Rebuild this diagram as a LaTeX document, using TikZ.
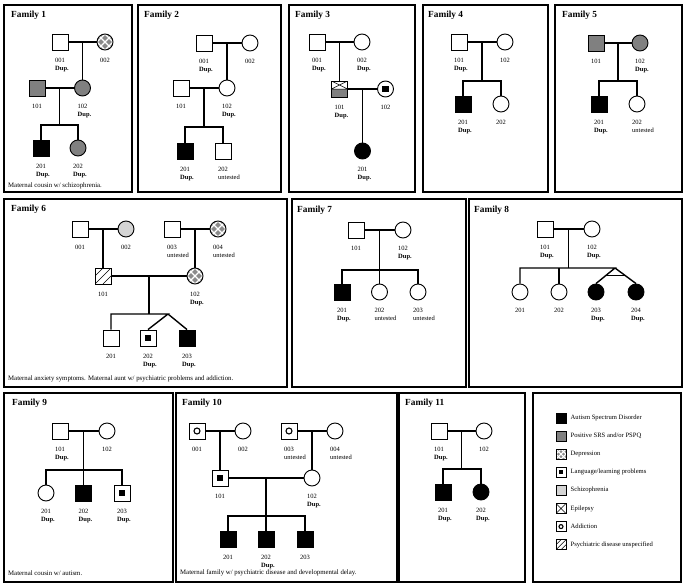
\documentclass[tikz,border=0pt]{standalone}
\usepackage{fontspec}
\setmainfont{Liberation Serif}
\usetikzlibrary{calc,positioning}
\definecolor{srsGray}{HTML}{808080}
\definecolor{sczGray}{HTML}{D4D4D4}
\definecolor{deprGray}{HTML}{8A8A8A}
\newcommand{\Dup}{\\\textbf{Dup.}}
\newcommand{\Unt}{\\untested}
\newcommand{\ppcorners}{\path (path picture bounding box.south west) coordinate (pSW)
  (path picture bounding box.north east) coordinate (pNE)
  (path picture bounding box.north west) coordinate (pNW)
  (path picture bounding box.south east) coordinate (pSE)
  (path picture bounding box.center) coordinate (pC);}

\begin{document}
\begin{tikzpicture}[x=1pt,y=-1pt,
  male/.style={draw,rectangle,minimum size=16pt,inner sep=0pt,line width=.9pt,fill=white},
  female/.style={draw,circle,minimum size=16pt,inner sep=0pt,line width=.9pt,fill=white},
  lgd/.style={draw,rectangle,minimum size=10pt,inner sep=0pt,line width=1pt,fill=white},
  asd/.style={fill=black},
  srs/.style={fill=srsGray},
  scz/.style={fill=sczGray},
  depr/.style={fill=deprGray,path picture={\ppcorners
      \draw[white,line width=1.1pt] (pSW) -- (pNE) (pNW) -- (pSE)
        ($(pSW)!.5!(pNW)$) -- ($(pNW)!.5!(pNE)$) -- ($(pNE)!.5!(pSE)$) -- ($(pSE)!.5!(pSW)$) -- cycle;}},
  lang/.style={path picture={\ppcorners\fill[black] ($(pC)!.4!(pSW)$) rectangle ($(pC)!.4!(pNE)$);}},
  epil/.style={path picture={\ppcorners\draw[line width=.5pt] (pSW) -- (pNE) (pNW) -- (pSE);}},
  addict/.style={path picture={\draw[line width=1.1pt] (path picture bounding box.center) circle[radius=#1];}},
  addict/.default=3pt,
  psyu/.style={path picture={\ppcorners\draw[line width=.5pt] (pSW) -- (pNE)
      ($(pSW)!.5!(pNW)$) -- ($(pNW)!.5!(pNE)$) ($(pSW)!.5!(pSE)$) -- ($(pSE)!.5!(pNE)$);}},
  epsrs/.style={path picture={\ppcorners\fill[srsGray] ($(pSW)!.5!(pNW)$) rectangle (pSE);
      \draw[line width=.5pt] ($(pSW)!.5!(pNW)$) -- ($(pSE)!.5!(pNE)$) -- (pNW) (pNE) -- ($(pSW)!.5!(pNW)$);}},
  pline/.style={line width=1.4pt},
  panel/.style={draw,line width=1.3pt},
  ftitle/.style={anchor=west,inner sep=0pt,font=\fontsize{9.3}{10}\selectfont\bfseries},
  note/.style={anchor=west,inner sep=0pt,font=\fontsize{6.8}{8}\selectfont},
  idlbl/.style={anchor=north west,align=left,inner sep=0pt,xshift=-5pt,yshift=-8pt,font=\fontsize{6.5}{8}\selectfont},
  pid/.style={label={[idlbl]south:#1}},
  lgtext/.style={anchor=west,inner sep=0pt,xshift=4pt,font=\fontsize{6.6}{8}\selectfont}]
\useasboundingbox (0,0) rectangle (685,586);

% panels and titles
\foreach \a/\b/\c/\d in {4/5/132/192, 138/5/281/192, 289/5/415/192, 423/5/548/192, 555/5/682/192,
    4/199/287/387, 292/199/466/387, 469/199/682/387,
    4/393/173/582, 176/393/397/582, 399/393/525/582, 533/393/681/582}
  \draw[panel] (\a,\b) rectangle (\c,\d);
\foreach \n/\x/\y in {1/11/15, 2/144/15, 3/295/15, 4/428/15, 5/562/15,
    6/11/209, 7/297/210, 8/474/210, 9/12/403, 10/182/403, 11/405/403}
  \node[ftitle] (t\n) at (\x,\y) {Family \n};

% Family 1
\node[male,pid={001\Dup}] (f1i001) at (60,42) {};
\node[female,depr,pid={002}] (f1i002) at (105,42) {};
\node[male,srs,pid={101}] (f1i101) at (37,88) {};
\node[female,srs,pid={102\Dup}] (f1i102) at (82.5,88) {};
\node[male,asd,pid={201\Dup}] (f1i201) at (41,148) {};
\node[female,srs,pid={202\Dup}] (f1i202) at (78,148) {};
\coordinate (f1s) at (59.75,125);
\draw[pline] (f1i001) -- (f1i002) (f1i101) -- (f1i102);
\draw[pline] ($(f1i001)!.5!(f1i002)$) -- (f1i102);
\draw[pline] ($(f1i101)!.5!(f1i102)$) -- (f1s);
\draw[pline] (f1i201) |- (f1s) -| (f1i202);
\node[note] (n1) at (8,186) {Maternal cousin w/ schizophrenia.};

% Family 2
\node[male,pid={001\Dup}] (f2i001) at (204,43) {};
\node[female,pid={002}] (f2i002) at (250,43) {};
\node[male,pid={101}] (f2i101) at (181,88) {};
\node[female,pid={102\Dup}] (f2i102) at (227,88) {};
\node[male,asd,pid={201\Dup}] (f2i201) at (185,151) {};
\node[male,pid={202\Unt}] (f2i202) at (223,151) {};
\coordinate (f2s) at (204,127);
\draw[pline] (f2i001) -- (f2i002) (f2i101) -- (f2i102);
\draw[pline] ($(f2i001)!.5!(f2i002)$) -- (f2i102);
\draw[pline] ($(f2i101)!.5!(f2i102)$) -- (f2s);
\draw[pline] (f2i201) |- (f2s) -| (f2i202);

% Family 3
\node[male,pid={001\Dup}] (f3i001) at (317,42) {};
\node[female,pid={002\Dup}] (f3i002) at (362,42) {};
\node[male,epsrs,pid={101\Dup}] (f3i101) at (339.5,89) {};
\node[female,lang,pid={102}] (f3i102) at (385.5,89) {};
\node[female,asd,pid={201\Dup}] (f3i201) at (362.5,151) {};
\draw[pline] (f3i001) -- (f3i002) (f3i101) -- (f3i102);
\draw[pline] ($(f3i001)!.5!(f3i002)$) -- (f3i101);
\draw[pline] ($(f3i101)!.5!(f3i102)$) -- (f3i201);

% Family 4
\node[male,pid={101\Dup}] (f4i101) at (459,42) {};
\node[female,pid={102}] (f4i102) at (505,42) {};
\node[male,asd,pid={201\Dup}] (f4i201) at (463,104) {};
\node[female,pid={202}] (f4i202) at (501,104) {};
\coordinate (f4s) at (482,81);
\draw[pline] (f4i101) -- (f4i102);
\draw[pline] ($(f4i101)!.5!(f4i102)$) -- (f4s);
\draw[pline] (f4i201) |- (f4s) -| (f4i202);

% Family 5
\node[male,srs,pid={101}] (f5i101) at (596,43) {};
\node[female,srs,pid={102\Dup}] (f5i102) at (640,43) {};
\node[male,asd,pid={201\Dup}] (f5i201) at (599,104) {};
\node[female,pid={202\Unt}] (f5i202) at (637,104) {};
\coordinate (f5s) at (618,81);
\draw[pline] (f5i101) -- (f5i102);
\draw[pline] ($(f5i101)!.5!(f5i102)$) -- (f5s);
\draw[pline] (f5i201) |- (f5s) -| (f5i202);

% Family 6
\node[male,pid={001}] (f6i001) at (80,229) {};
\node[female,scz,pid={002}] (f6i002) at (126,229) {};
\node[male,pid={003\Unt}] (f6i003) at (172,229) {};
\node[female,depr,pid={004\Unt}] (f6i004) at (218,229) {};
\node[male,psyu,pid={101}] (f6i101) at (103,276) {};
\node[female,depr,pid={102\Dup}] (f6i102) at (195,276) {};
\node[male,pid={201}] (f6i201) at (111,338) {};
\node[male,lang,pid={202\Dup}] (f6i202) at (148,338) {};
\node[male,asd,pid={203\Dup}] (f6i203) at (187,338) {};
\coordinate (f6t) at (168,314);
\draw[pline] (f6i001) -- (f6i002) (f6i003) -- (f6i004) (f6i101) -- (f6i102);
\draw[pline] ($(f6i001)!.5!(f6i002)$) -- (f6i101);
\draw[pline] ($(f6i003)!.5!(f6i004)$) -- (f6i102);
\draw[pline] ($(f6i101)!.5!(f6i102)$) coordinate (f6m) -- (f6m |- f6t);
\draw[pline] (f6i201) |- (f6t) -- (f6i202.north) (f6t) -- (f6i203.north);
\node[note] (n6) at (8,379) {Maternal anxiety symptoms. Maternal aunt w/ psychiatric problems and addiction.};

% Family 7
\node[male,pid={101}] (f7i101) at (356,230) {};
\node[female,pid={102\Dup}] (f7i102) at (403,230) {};
\node[male,asd,pid={201\Dup}] (f7i201) at (342,292) {};
\node[female,pid={202\Unt}] (f7i202) at (379.5,292) {};
\node[female,pid={203\Unt}] (f7i203) at (418,292) {};
\coordinate (f7s) at (379.5,270);
\draw[pline] (f7i101) -- (f7i102);
\draw[pline] ($(f7i101)!.5!(f7i102)$) -- (f7i202);
\draw[pline] (f7i201) |- (f7s) -| (f7i203);

% Family 8
\node[male,pid={101\Dup}] (f8i101) at (545,229) {};
\node[female,pid={102\Dup}] (f8i102) at (592,229) {};
\node[female,pid={201}] (f8i201) at (520,292) {};
\node[female,pid={202}] (f8i202) at (559,292) {};
\node[female,asd,pid={203\Dup}] (f8i203) at (596,292) {};
\node[female,asd,pid={204\Dup}] (f8i204) at (636,292) {};
\coordinate (f8t) at (615,268);
\draw[pline] (f8i101) -- (f8i102);
\draw[pline] ($(f8i101)!.5!(f8i102)$) coordinate (f8m) -- (f8m |- f8t);
\draw[pline] (f8i201) |- (f8t) -- (f8i203.north) (f8t) -- (f8i204.north);
\draw[pline] (f8i202) -- (f8i202 |- f8t);
\draw[pline] ($(f8t)!.5!(f8i203.north)$) -- ($(f8t)!.5!(f8i204.north)$);

% Family 9
\node[male,pid={101\Dup}] (f9i101) at (60,431) {};
\node[female,pid={102}] (f9i102) at (107,431) {};
\node[female,pid={201\Dup}] (f9i201) at (46,493) {};
\node[male,asd,pid={202\Dup}] (f9i202) at (83.5,493) {};
\node[male,lang,pid={203\Dup}] (f9i203) at (122,493) {};
\coordinate (f9s) at (83.5,470);
\draw[pline] (f9i101) -- (f9i102);
\draw[pline] ($(f9i101)!.5!(f9i102)$) -- (f9i202);
\draw[pline] (f9i201) |- (f9s) -| (f9i203);
\node[note] (n9) at (8,573) {Maternal cousin w/ autism.};

% Family 10
\node[male,addict,pid={001}] (f10i001) at (197,431) {};
\node[female,pid={002}] (f10i002) at (243,431) {};
\node[male,addict,pid={003\Unt}] (f10i003) at (289,431) {};
\node[female,pid={004\Unt}] (f10i004) at (335,431) {};
\node[male,lang,pid={101}] (f10i101) at (220,478) {};
\node[female,pid={102\Dup}] (f10i102) at (312,478) {};
\node[male,asd,pid={201}] (f10i201) at (228,539) {};
\node[male,asd,pid={202\Dup}] (f10i202) at (266,539) {};
\node[male,asd,pid={203}] (f10i203) at (305,539) {};
\coordinate (f10s) at (266,516);
\draw[pline] (f10i001) -- (f10i002) (f10i003) -- (f10i004) (f10i101) -- (f10i102);
\draw[pline] ($(f10i001)!.5!(f10i002)$) -- (f10i101);
\draw[pline] ($(f10i003)!.5!(f10i004)$) -- (f10i102);
\draw[pline] ($(f10i101)!.5!(f10i102)$) -- (f10i202);
\draw[pline] (f10i201) |- (f10s) -| (f10i203);
\node[note] (n10) at (180,573) {Maternal family w/ psychiatric disease and developmental delay.};

% Family 11
\node[male,pid={101\Dup}] (f11i101) at (439,431) {};
\node[female,pid={102}] (f11i102) at (484,431) {};
\node[male,asd,pid={201\Dup}] (f11i201) at (443,492) {};
\node[female,asd,pid={202\Dup}] (f11i202) at (481,492) {};
\coordinate (f11s) at (461.5,469);
\draw[pline] (f11i101) -- (f11i102);
\draw[pline] ($(f11i101)!.5!(f11i102)$) -- (f11s);
\draw[pline] (f11i201) |- (f11s) -| (f11i202);

% legend
\node[lgd,asd,label={[lgtext]east:Autism Spectrum Disorder}] (lg1) at (561,418) {};
\node[lgd,srs,label={[lgtext]east:Positive SRS and/or PSPQ}] (lg2) at (561,436.1) {};
\node[lgd,depr,label={[lgtext]east:Depression}] (lg3) at (561,454.2) {};
\node[lgd,lang,label={[lgtext]east:Language/learning problems}] (lg4) at (561,472.3) {};
\node[lgd,scz,label={[lgtext]east:Schizophrenia}] (lg5) at (561,490.4) {};
\node[lgd,epil,label={[lgtext]east:Epilepsy}] (lg6) at (561,508.5) {};
\node[lgd,addict=2pt,label={[lgtext]east:Addiction}] (lg7) at (561,526.6) {};
\node[lgd,psyu,label={[lgtext]east:Psychiatric disease unspecified}] (lg8) at (561,544.7) {};
\end{tikzpicture}
\end{document}
